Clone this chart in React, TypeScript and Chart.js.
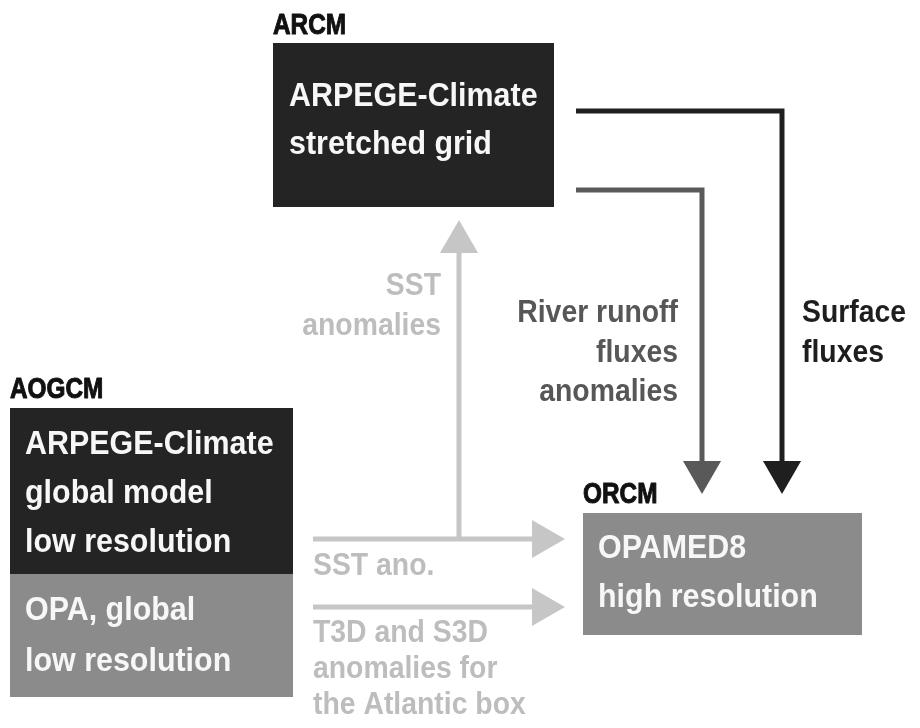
import { useEffect, useRef } from "react";
import { Chart, registerables } from "chart.js";

Chart.register(...registerables);

const W = 920;
const H = 728;

// ---- Boxes (diagram units = pixels on a 920x728 plane) ----
const boxX0 = [273, 10, 10, 583];
const boxY0 = [43, 408, 574, 513];
const boxX1 = [554, 293, 293, 862];
const boxY1 = [207, 574, 697, 635];
const boxFill = ["#242424", "#242424", "#8b8b8b", "#8b8b8b"];

// box titles above boxes
const titleText = ["ARCM", "AOGCM", "ORCM"];
const titleX = [273, 10, 583];
const titleY = [34, 398, 503];

// text inside boxes
const boxLines = [
  ["ARPEGE-Climate", "stretched grid"],
  ["ARPEGE-Climate", "global model", "low resolution"],
  ["OPA, global", "low resolution"],
  ["OPAMED8", "high resolution"],
];
const boxTextX = [289, 25, 25, 598];
const boxTextY = [
  [106, 154],
  [454, 503, 552],
  [620, 671],
  [558, 607],
];

// ---- Arrows (polyline points + tip) ----
const arrowNames = ["Surface", "River", "SSTup", "SSTano", "T3D"];
const arrowXs = [
  [576, 782, 782],
  [576, 702, 702],
  [459, 459],
  [313, 540],
  [313, 540],
];
const arrowYs = [
  [111, 111, 470],
  [190, 190, 470],
  [539, 245],
  [539, 539],
  [607, 607],
];
const tipX = [782, 702, 459, 565, 565];
const tipY = [494, 494, 220, 539, 607];
const tipDir = ["down", "down", "up", "right", "right"];
const arrowColor = ["#1f1f1f", "#595959", "#c6c6c6", "#c6c6c6", "#c6c6c6"];

// ---- Free labels ----
const labelLines = [
  ["SST", "anomalies"],
  ["River runoff", "fluxes", "anomalies"],
  ["Surface", "fluxes"],
  ["SST ano."],
  ["T3D and S3D", "anomalies for", "the Atlantic box"],
];
const labelX = [441, 678, 802, 313, 313];
const labelY = [
  [295, 335],
  [322, 362, 401],
  [322, 362],
  [575],
  [642, 678, 714],
];
const labelAlign = ["right", "right", "left", "left", "left"];
const labelColor = ["#bdbdbd", "#575757", "#1e1e1e", "#bdbdbd", "#bdbdbd"];

const FAMILY = "'Liberation Sans', Arial, sans-serif";
const HEAD_R = 22;

function drawText(
  ctx: CanvasRenderingContext2D,
  text: string,
  px: number,
  py: number,
  size: number,
  color: string,
  align: CanvasTextAlign,
  sx: number,
  stroke: number
) {
  ctx.save();
  ctx.translate(px, py);
  ctx.scale(sx, 1);
  ctx.font = `bold ${size}px ${FAMILY}`;
  ctx.fillStyle = color;
  ctx.textAlign = align;
  ctx.textBaseline = "alphabetic";
  ctx.fillText(text, 0, 0);
  if (stroke > 0) {
    ctx.strokeStyle = color;
    ctx.lineWidth = stroke;
    ctx.lineJoin = "round";
    ctx.strokeText(text, 0, 0);
  }
  ctx.restore();
}

const diagramPlugin = {
  id: "diagram",
  beforeDatasetsDraw(chart: any) {
    const { ctx, scales } = chart;
    const xs = scales.x;
    const ys = scales.y;
    ctx.save();
    for (let i = 0; i < boxX0.length; i++) {
      const l = xs.getPixelForValue(boxX0[i]);
      const r = xs.getPixelForValue(boxX1[i]);
      const t = ys.getPixelForValue(boxY0[i]);
      const b = ys.getPixelForValue(boxY1[i]);
      ctx.fillStyle = boxFill[i];
      ctx.fillRect(l, t, r - l, b - t);
    }
    ctx.restore();
  },
  afterDatasetsDraw(chart: any) {
    const { ctx, scales } = chart;
    const xs = scales.x;
    const ys = scales.y;
    for (let i = 0; i < titleText.length; i++) {
      drawText(ctx, titleText[i], xs.getPixelForValue(titleX[i]), ys.getPixelForValue(titleY[i]), 29, "#111111", "left", 0.84, 1);
    }
    for (let i = 0; i < boxLines.length; i++) {
      boxLines[i].forEach((line, j) => {
        drawText(ctx, line, xs.getPixelForValue(boxTextX[i]), ys.getPixelForValue(boxTextY[i][j]), 34, "#f7f7f7", "left", 0.895, 0);
      });
    }
    for (let i = 0; i < labelLines.length; i++) {
      labelLines[i].forEach((line, j) => {
        drawText(
          ctx,
          line,
          xs.getPixelForValue(labelX[i]),
          ys.getPixelForValue(labelY[i][j]),
          31,
          labelColor[i],
          labelAlign[i] as CanvasTextAlign,
          0.915,
          0
        );
      });
    }
  },
};

const dirRotation: Record<string, number> = { up: 0, right: 90, down: 180, left: 270 };
const dirVec: Record<string, [number, number]> = {
  up: [0, -1],
  right: [1, 0],
  down: [0, 1],
  left: [-1, 0],
};

export default function App() {
  const ref = useRef<HTMLCanvasElement | null>(null);

  useEffect(() => {
    document.body.style.margin = "0";
    document.body.style.background = "#ffffff";
    const canvas = ref.current;
    if (!canvas) return;

    const datasets: any[] = [];
    arrowNames.forEach((name, i) => {
      datasets.push({
        type: "line",
        label: name,
        data: arrowXs[i].map((x, k) => ({ x, y: arrowYs[i][k] })),
        borderColor: arrowColor[i],
        borderWidth: 5,
        borderJoinStyle: "miter",
        borderCapStyle: "butt",
        pointRadius: 0,
        fill: false,
        tension: 0,
        showLine: true,
        clip: false,
      });
      const [dx, dy] = dirVec[tipDir[i]];
      datasets.push({
        type: "scatter",
        label: name + " head",
        data: [{ x: tipX[i] - dx * HEAD_R, y: tipY[i] - dy * HEAD_R }],
        pointStyle: "triangle",
        pointRadius: HEAD_R,
        pointHoverRadius: HEAD_R,
        rotation: dirRotation[tipDir[i]],
        backgroundColor: arrowColor[i],
        borderColor: arrowColor[i],
        borderWidth: 0,
        clip: false,
      });
    });

    const chart = new Chart(canvas, {
      type: "scatter",
      data: { datasets },
      options: {
        animation: false,
        responsive: false,
        maintainAspectRatio: false,
        devicePixelRatio: 1,
        layout: { padding: 0, autoPadding: false },
        events: [],
        plugins: {
          legend: { display: false },
          tooltip: { enabled: false },
          title: { display: false },
        },
        scales: {
          x: { type: "linear", min: 0, max: W, display: false },
          y: { type: "linear", min: 0, max: H, reverse: true, display: false },
        },
      },
      plugins: [diagramPlugin],
    } as any);

    return () => chart.destroy();
  }, []);

  return (
    <div style={{ width: W, height: H, overflow: "hidden" }}>
      <canvas ref={ref} width={W} height={H} style={{ display: "block", width: W, height: H }} />
    </div>
  );
}
